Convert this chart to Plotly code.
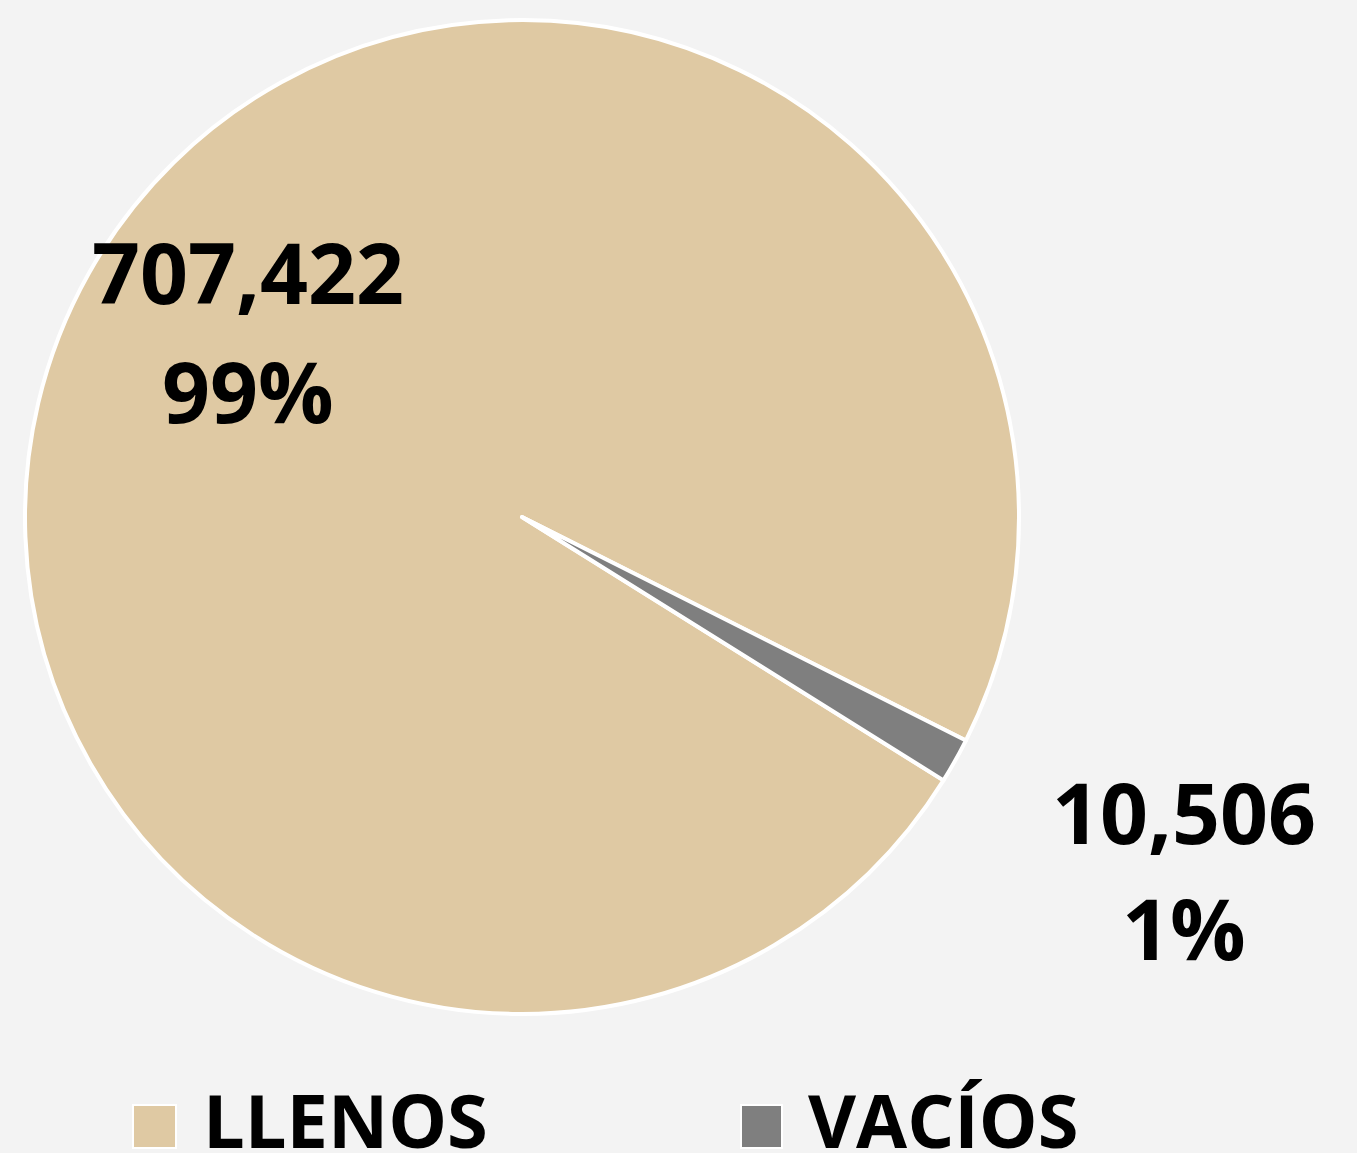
import plotly.graph_objects as go

W, H = 1357, 1153

labels = ["LLENOS", "VACÍOS"]
values = [707422, 10506]
colors = ["#DFC9A3", "#7F7F7F"]

total = sum(values)
pcts = [round(v / total * 100) for v in values]

def px(x):
    return x / W

def py(y):
    return 1 - y / H

cx, cy, r = 522, 517, 497

fig = go.Figure()
fig.add_trace(go.Pie(
    labels=labels,
    values=values,
    marker=dict(colors=colors, line=dict(color="white", width=4)),
    sort=False,
    direction="clockwise",
    rotation=122,
    textinfo="none",
    hoverinfo="label+value+percent",
    showlegend=False,
    domain=dict(x=[px(cx - r), px(cx + r)], y=[py(cy + r), py(cy - r)]),
))

label_font = dict(family="Open Sans, Noto Sans, sans-serif", size=84, color="black")
# (x center, y of value line, y of pct line) in pixels
label_pos = [(248, 272, 391), (1184, 811, 927)]
for v, p, (lx, ly1, ly2) in zip(values, pcts, label_pos):
    fig.add_annotation(x=px(lx), y=py(ly1), xref="paper", yref="paper",
                       text=f"<b>{v:,}</b>", showarrow=False,
                       xanchor="center", yanchor="middle", font=label_font)
    fig.add_annotation(x=px(lx), y=py(ly2), xref="paper", yref="paper",
                       text=f"<b>{p}%</b>", showarrow=False,
                       xanchor="center", yanchor="middle", font=label_font)

# Legend built from labels/colors
legend_font = dict(family="Open Sans, Noto Sans, sans-serif", size=74, color="black")
legend_items = [(133, 176, 201), (741, 782, 806)]
for lab, col, (sx0, sx1, tx) in zip(labels, colors, legend_items):
    fig.add_shape(type="rect", xref="paper", yref="paper",
                  x0=px(sx0), x1=px(sx1), y0=py(1148), y1=py(1105),
                  fillcolor=col, line=dict(color="white", width=2))
    fig.add_annotation(x=px(tx), y=py(1119), xref="paper", yref="paper",
                       text=f"<b>{lab}</b>", showarrow=False,
                       xanchor="left", yanchor="middle", font=legend_font)

fig.update_layout(
    width=W, height=H,
    margin=dict(l=0, r=0, t=0, b=0),
    paper_bgcolor="#F3F3F3",
    plot_bgcolor="#F3F3F3",
)

fig.write_html("out.html",
               config={"displayModeBar": False},
               post_script="document.body.style.margin='0';document.body.style.background='#F3F3F3';")
